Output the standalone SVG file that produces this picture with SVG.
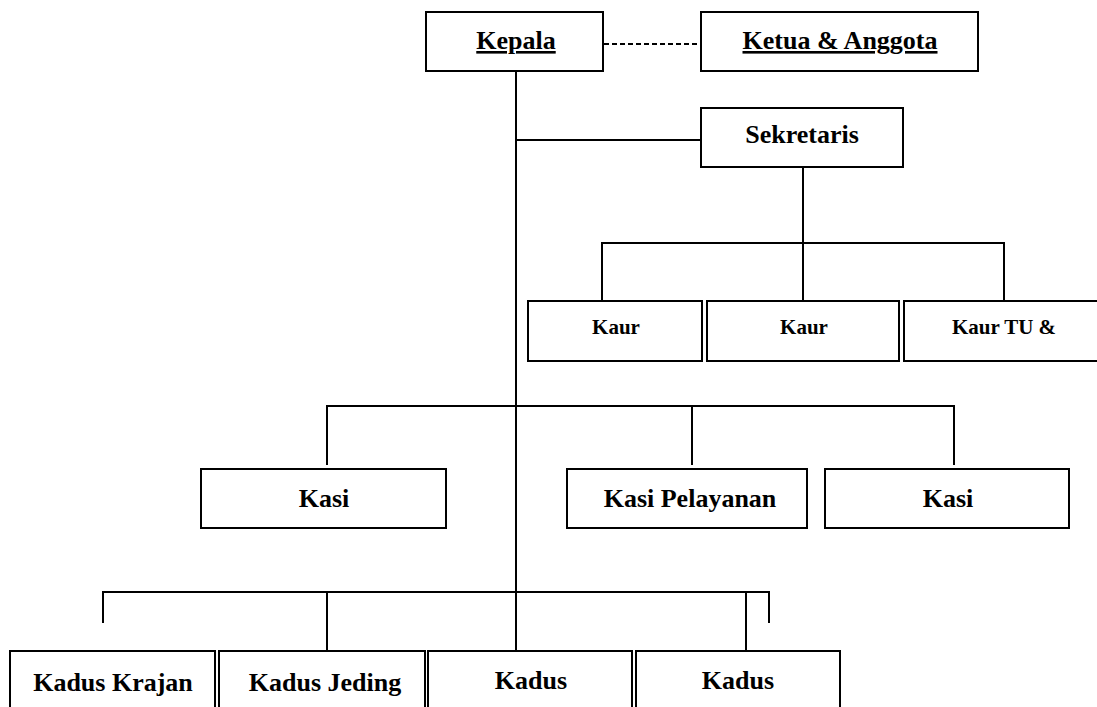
<svg xmlns="http://www.w3.org/2000/svg" width="1097" height="707" viewBox="0 0 1097 707">
<style>
.box{fill:#fff;stroke:#000;stroke-width:2}
.ln{stroke:#000;stroke-width:2;fill:none}
.dash{stroke:#000;stroke-width:2;stroke-dasharray:5 3;fill:none}
.t{font-family:"Liberation Serif","Times New Roman",serif;font-weight:bold;font-size:26px;text-anchor:middle;fill:#000}
.s{font-size:21px}
.u{text-decoration:underline}
</style>
<rect width="1097" height="707" fill="#fff"/>
<g id="connectors">
<line class="dash" x1="604" y1="44" x2="700" y2="44"/>
<line class="ln" x1="516" y1="71" x2="516" y2="651"/>
<line class="ln" x1="516" y1="140" x2="701" y2="140"/>
<line class="ln" x1="803" y1="167" x2="803" y2="300"/>
<line class="ln" x1="602" y1="243" x2="1004" y2="243"/>
<line class="ln" x1="602" y1="242" x2="602" y2="301"/>
<line class="ln" x1="1004" y1="242" x2="1004" y2="301"/>
<line class="ln" x1="327" y1="406" x2="954" y2="406"/>
<line class="ln" x1="327" y1="405" x2="327" y2="465"/>
<line class="ln" x1="692" y1="406" x2="692" y2="465"/>
<line class="ln" x1="954" y1="405" x2="954" y2="465"/>
<line class="ln" x1="103" y1="592" x2="769" y2="592"/>
<line class="ln" x1="103" y1="591" x2="103" y2="623"/>
<line class="ln" x1="769" y1="591" x2="769" y2="623"/>
<line class="ln" x1="327" y1="592" x2="327" y2="651"/>
<line class="ln" x1="746" y1="592" x2="746" y2="651"/>
</g>
<g id="kepala"><rect class="box" x="426" y="12" width="177" height="59"/><text class="t u" x="516" y="49">Kepala</text></g>
<g id="ketua"><rect class="box" x="701" y="12" width="277" height="59"/><text class="t u" x="840" y="49">Ketua &amp; Anggota</text></g>
<g id="sekretaris"><rect class="box" x="701" y="108" width="202" height="59"/><text class="t" x="802" y="143">Sekretaris</text></g>
<g id="kaur1"><rect class="box" x="528" y="301" width="174" height="60"/><text class="t s" x="616" y="334">Kaur</text></g>
<g id="kaur2"><rect class="box" x="707" y="301" width="192" height="60"/><text class="t s" x="804" y="334">Kaur</text></g>
<g id="kaur3"><rect class="box" x="904" y="301" width="200" height="60"/><text class="t s" x="1004" y="334">Kaur TU &amp;</text></g>
<g id="kasi1"><rect class="box" x="201" y="469" width="245" height="59"/><text class="t" x="324" y="507">Kasi</text></g>
<g id="kasi2"><rect class="box" x="567" y="469" width="240" height="59"/><text class="t" x="690" y="507">Kasi Pelayanan</text></g>
<g id="kasi3"><rect class="box" x="825" y="469" width="244" height="59"/><text class="t" x="948" y="507">Kasi</text></g>
<g id="kadus1"><rect class="box" x="10" y="651" width="205" height="70"/><text class="t" x="113" y="691">Kadus Krajan</text></g>
<g id="kadus2"><rect class="box" x="219" y="651" width="206" height="70"/><text class="t" x="325" y="691">Kadus Jeding</text></g>
<g id="kadus3"><rect class="box" x="428" y="651" width="204" height="70"/><text class="t" x="531" y="689">Kadus</text></g>
<g id="kadus4"><rect class="box" x="636" y="651" width="204" height="70"/><text class="t" x="738" y="689">Kadus</text></g>
</svg>
